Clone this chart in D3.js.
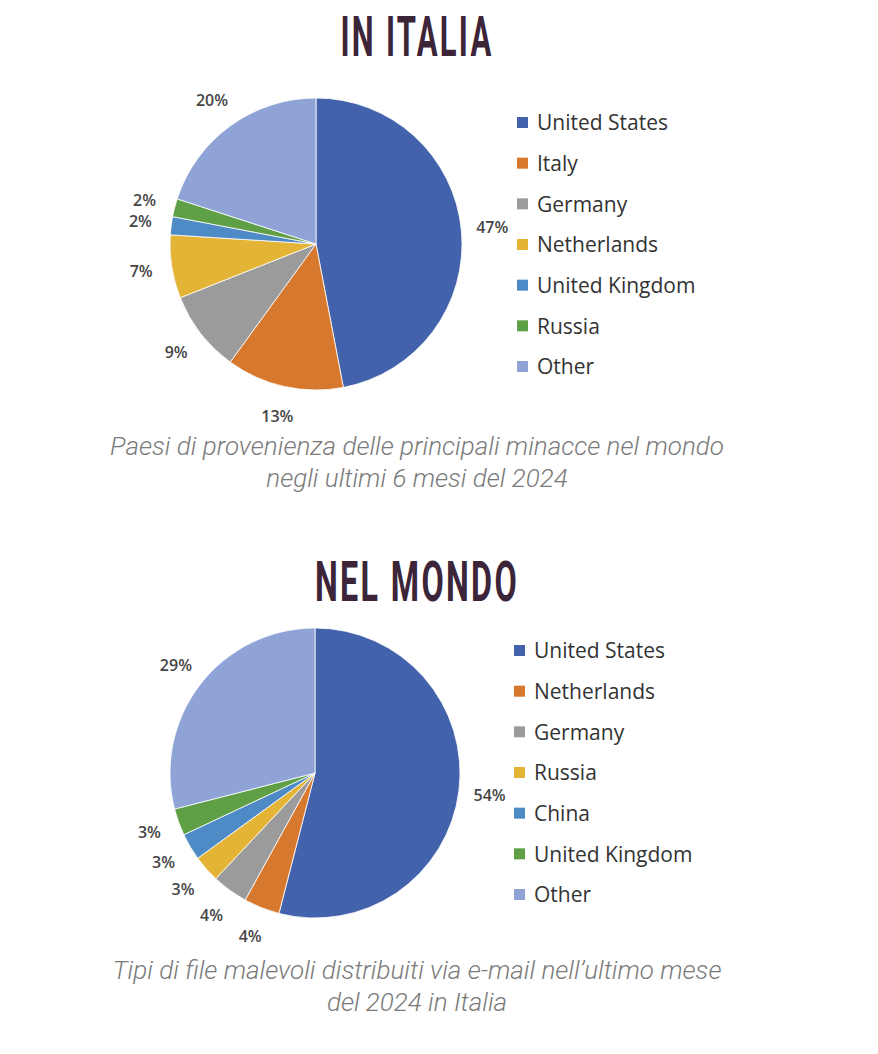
<!DOCTYPE html>
<html>
<head>
<meta charset="utf-8">
<style>
  body { margin: 0; background: #fff; }
  svg { display: block; }
</style>
</head>
<body>
<svg width="878" height="1054"></svg>

<script src="https://cdn.jsdelivr.net/npm/d3@7"></script>
<script>
// data
var italiaCountries = ["United States", "Italy", "Germany", "Netherlands", "United Kingdom", "Russia", "Other"];
var italiaValues = [47, 13, 9, 7, 2, 2, 20];

var mondoCountries = ["United States", "Netherlands", "Germany", "Russia", "China", "United Kingdom", "Other"];
var mondoValues = [54, 4, 4, 3, 3, 3, 29];

var sliceColors = ["#4262ab", "#d7782f", "#9b9b9b", "#e3b436", "#4e8ac6", "#5f9f45", "#8fa3d6"];

var titles = ["IN ITALIA", "NEL MONDO"];
var captions = [
	["Paesi di provenienza delle principali minacce nel mondo", "negli ultimi 6 mesi del 2024"],
	["Tipi di file malevoli distribuiti via e-mail nell\u2019ultimo mese", "del 2024 in Italia"]
];

var svg = d3.select("svg");

var charts = [
	{ names: italiaCountries, values: italiaValues, cx: 316, cy: 244, r: 146, top: 0, titleW: 153, legendX: 517, legendY: 123 },
	{ names: mondoCountries, values: mondoValues, cx: 315, cy: 773, r: 145, top: 545, titleW: 204, legendX: 514, legendY: 651 }
];

var pie = d3.pie().sort(null).value(function(d) { return d; });

charts.forEach(function(c, ci) {
	var g = svg.append("g");

	// title (condensed look squeezed via textLength)
	g.append("text")
		.attr("x", 417)
		.attr("y", c.top + 56)
		.attr("text-anchor", "middle")
		.attr("textLength", c.titleW)
		.attr("lengthAdjust", "spacingAndGlyphs")
		.style("font-family", "Roboto, sans-serif")
		.style("font-weight", 700)
		.style("font-size", "55px")
		.style("letter-spacing", "4px")
		.style("fill", "#3c2439")
		.text(titles[ci]);

	var color = d3.scaleOrdinal().domain(c.names).range(sliceColors);
	var arcs = pie(c.values);
	var arc = d3.arc().innerRadius(0).outerRadius(c.r);
	var labelArc = d3.arc().innerRadius(c.r + 31).outerRadius(c.r + 31);

	var pieG = g.append("g").attr("transform", "translate(" + c.cx + "," + c.cy + ")");

	pieG.selectAll(".slice").data(arcs).enter().append("path")
		.classed("slice", true)
		.attr("d", arc)
		.style("fill", function(d, i) { return color(c.names[i]); })
		.style("stroke", "#fff")
		.style("stroke-width", 0.8);

	pieG.selectAll(".lbl").data(arcs).enter().append("text")
		.classed("lbl", true)
		.attr("transform", function(d) { return "translate(" + labelArc.centroid(d) + ")"; })
		.attr("text-anchor", "middle")
		.attr("dy", "0.35em")
		.style("font-family", "'Open Sans', 'DejaVu Sans', sans-serif")
		.style("font-size", "16px")
		.style("font-weight", 600)
		.style("fill", "#454545")
		.text(function(d) { return d.data + "%"; });

	// legend
	var legendY = d3.scalePoint().domain(c.names).range([c.legendY, c.legendY + 244]);
	var leg = g.selectAll(".leg" + ci).data(c.names).enter().append("g")
		.attr("transform", function(d) { return "translate(" + c.legendX + "," + legendY(d) + ")"; });
	leg.append("rect")
		.attr("x", 0).attr("y", -6)
		.attr("width", 11).attr("height", 11)
		.style("fill", function(d) { return color(d); });
	leg.append("text")
		.attr("x", 20)
		.attr("dy", "0.35em")
		.style("font-family", "'Open Sans', 'DejaVu Sans', sans-serif")
		.style("font-size", "21px")
		.style("fill", "#333")
		.text(function(d) { return d; });

	// caption
	var capY = ci == 0 ? 455 : 979;
	g.selectAll(".cap" + ci).data(captions[ci]).enter().append("text")
		.attr("x", 417)
		.attr("y", function(d, i) { return capY + i * 32; })
		.attr("text-anchor", "middle")
		.style("font-family", "Roboto, sans-serif")
		.style("font-weight", 300)
		.style("font-style", "italic")
		.style("font-size", "26px")
		.style("fill", "#7a7a7a")
		.text(function(d) { return d; });
});
</script>
</body>
</html>
